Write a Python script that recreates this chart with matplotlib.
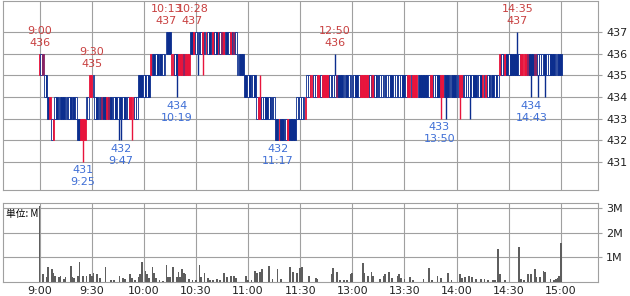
import matplotlib
matplotlib.use("Agg")
import matplotlib.pyplot as plt

# minutes counted from 9:00, lunch break removed (150 = 11:30 / 12:30, 300 = 15:00)
# candle bodies are one tick high: (first minute, lower edge of body, colour of each minute)
# r = up (red), b = down (blue), p = purple, w = hollow
seg_start = [0, 3, 5, 7, 9, 22, 27, 29, 32, 57, 64, 73, 76, 87, 114, 118, 125, 136, 148, 154, 205, 265]
seg_level = [435, 434, 433, 432, 433, 432, 433, 434, 433, 434, 435, 436, 435, 436, 435, 434, 433, 432, 433, 434, 434, 435]
seg_kind = [
    "rwp", "wb", "br", "wr", "wbwbbbwbwbwbw", "bbrrr", "ww", "rrw",
    "wbwbpbbrpbwwbwwbwbwwrrrww", "bbbwbwb", "rwbwbwbww", "wbb", "rrwbrrrprrr",
    "bbrwwbwrwrwbwrwbrwprwbwrwpw", "wbbb", "bbwbwwb", "wrrwwbbwbbw", "bbrbbwwrbbbb",
    "wwwwwr",
    "wwrrwwrrwrrrrwwwwpbbbwwbwwwwbbwrrrrrwprwbbwwwbwwbbw",
    "wwwwbbwrrwrrrwbbbbbwrrwwbbrrwbbwwbbwwrrwwwwbwbbwwbrwrwbwbwbw",
    "rwwrbwbbbbbwrrrrpbbbppwwwwbwwbbbwwbb",
]

# shadows
wick_pos = [25, 46, 47, 53, 79, 91, 94, 127, 170, 231, 234, 242, 248, 275, 283, 287, 291]
wick_low = [431, 432, 432, 432, 434, 435, 435, 433, 434, 433, 433, 433, 433, 435, 434, 434, 434]
wick_high = [432, 433, 433, 433, 435, 436, 436, 435, 436, 434, 434, 434, 434, 437, 435, 435, 435]

# highs / lows written on the chart
hi_pos = [0, 30, 73, 88, 170, 275]
hi_val = [436, 435, 437, 437, 436, 437]
hi_time = ["9:00", "9:30", "10:13", "10:28", "12:50", "14:35"]
lo_pos = [25, 47, 79, 137, 230, 283]
lo_val = [431, 432, 434, 432, 433, 434]
lo_time = ["9:25", "9:47", "10:19", "11:17", "13:50", "14:43"]

# volume (millions of shares)
vol_pos = [0, 2, 4, 5, 7, 8, 9, 11, 12, 14, 15, 18, 19, 20, 22, 23, 25, 27, 29, 30,
           31, 33, 35, 38, 41, 43, 46, 48, 49, 52, 53, 55, 57, 58, 59, 61, 62, 63, 65, 66,
           67, 69, 71, 73, 74, 75, 77, 79, 80, 81, 82, 83, 84, 86, 88, 90, 92, 93, 95, 97,
           98, 100, 102, 104, 106, 108, 110, 112, 113, 119, 120, 122, 124, 125, 127, 128, 132, 134, 137, 139,
           144, 146, 148, 150, 151, 155, 159, 160, 168, 169, 171, 173, 175, 177, 179, 180, 186, 187, 189, 191,
           192, 196, 198, 199, 201, 203, 206, 207, 208, 210, 213, 215, 221, 224, 226, 229, 231, 235, 237, 242,
           243, 245, 247, 249, 251, 254, 256, 258, 261, 262, 264, 265, 268, 276, 277, 279, 281, 283, 285, 286,
           288, 290, 291, 294, 296, 297, 298, 299, 300]
vol_m = [3.1, 0.32, 0.2, 0.6, 0.5, 0.35, 0.25, 0.2, 0.25, 0.1, 0.2, 0.64, 0.2, 0.15, 0.25, 0.8, 0.25, 0.25, 0.3, 0.25,
         0.35, 0.3, 0.15, 0.6, 0.05, 0.05, 0.25, 0.15, 0.1, 0.3, 0.15, 0.05, 0.2, 0.3, 0.8, 0.45, 0.3, 0.15, 0.6, 0.35,
         0.15, 0.05, 0.02, 0.7, 0.2, 0.2, 0.6, 0.2, 0.4, 0.2, 0.5, 0.35, 0.3, 0.1, 0.05, 0.05, 0.7, 0.2, 0.35, 0.15,
         0.05, 0.05, 0.1, 0.05, 0.35, 0.2, 0.25, 0.25, 0.15, 0.25, 0.05, 0.05, 0.45, 0.35, 0.4, 0.5, 0.65, 0.1, 0.5, 0.1,
         0.6, 0.4, 0.35, 0.55, 0.6, 0.25, 0.15, 0.1, 0.3, 0.55, 0.4, 0.05, 0.05, 0.05, 0.3, 0.35, 0.75, 0.35, 0.25, 0.4,
         0.25, 0.1, 0.25, 0.3, 0.4, 0.15, 0.25, 0.3, 0.15, 0.1, 0.2, 0.05, 0.1, 0.55, 0.05, 0.25, 0.15, 0.35, 0.05, 0.3,
         0.15, 0.2, 0.25, 0.2, 0.1, 0.1, 0.1, 0.05, 0.05, 0.05, 1.32, 0.3, 0.05, 1.4, 0.1, 0.05, 0.3, 0.3, 0.5, 0.2,
         0.2, 0.45, 0.4, 0.1, 0.05, 0.1, 0.15, 0.25, 1.57]

tick_pos = [0, 30, 60, 90, 120, 150, 180, 210, 240, 270, 300]
tick_lab = ["9:00", "9:30", "10:00", "10:30", "11:00", "11:30", "13:00", "13:30", "14:00", "14:30", "15:00"]

RED = "#e8143c"
BLUE = "#0b2d8e"
PURPLE = "#8a2464"
fills = {"r": RED, "b": BLUE, "p": PURPLE, "w": "white"}
edges = {"r": RED, "b": BLUE, "p": PURPLE, "w": BLUE}
GRID = "#a0a0a0"

# one entry per minute
cx, cy, cf, ce = [], [], [], []
kind_at = {}
for s, lv, kinds in zip(seg_start, seg_level, seg_kind):
    for i, k in enumerate(kinds):
        cx.append(s + i)
        cy.append(lv)
        cf.append(fills[k])
        ce.append(edges[k])
        kind_at[s + i] = k

fig = plt.figure(figsize=(6.3, 2.96), dpi=100)
ax = fig.add_axes([0.004, 0.358, 0.945, 0.6385])
ax2 = fig.add_axes([0.004, 0.0483, 0.945, 0.2659])

for a in (ax, ax2):
    a.set_xlim(-21.3, 321.3)
    a.set_xticks(tick_pos)
    a.grid(True, color=GRID, lw=0.8)
    a.set_axisbelow(True)
    for sp in a.spines.values():
        sp.set_color(GRID)
        sp.set_linewidth(0.8)
    a.yaxis.tick_right()
    a.tick_params(axis="y", length=3, color=GRID, labelsize=8, pad=3, labelcolor="#222222")

# price panel
wc = [edges[kind_at.get(p, "b")] for p in wick_pos]
ax.vlines(wick_pos, wick_low, wick_high, colors=wc, lw=1.0, zorder=2)
ax.bar(cx, [1] * len(cx), bottom=cy, width=0.95, color=cf, edgecolor=ce, linewidth=0.6, zorder=3)

ax.set_ylim(429.69, 438.45)
ax.set_yticks(range(431, 438))
ax.tick_params(axis="x", length=0, labelbottom=False)

for p, v, t in zip(hi_pos, hi_val, hi_time):
    ax.annotate(f"{t}\n{v}", (p, v), xytext=(0, 4.5), textcoords="offset points",
                ha="center", va="bottom", fontsize=8, color="#c84040", linespacing=1.25, zorder=5)
for p, v, t in zip(lo_pos, lo_val, lo_time):
    ax.annotate(f"{v}\n{t}", (p, v), xytext=(0, -2.5), textcoords="offset points",
                ha="center", va="top", fontsize=8, color="#3f6fd6", linespacing=1.25, zorder=5)

# volume panel
ax2.bar(vol_pos, vol_m, width=1.0, color="#5e5e5e", zorder=3)
ax2.set_ylim(0, 3.22)
ax2.set_yticks([1, 2, 3])
ax2.set_yticklabels(["1M", "2M", "3M"])
ax2.set_xticklabels(tick_lab)
ax2.tick_params(axis="x", length=0, labelsize=8, pad=3, labelcolor="#222222")
ax2.text(0.006, 0.93, "単位: M", transform=ax2.transAxes, fontsize=7, va="top", ha="left",
         family=["Noto Sans CJK JP", "DejaVu Sans"], zorder=6)

fig.savefig("out.png", dpi=100)
